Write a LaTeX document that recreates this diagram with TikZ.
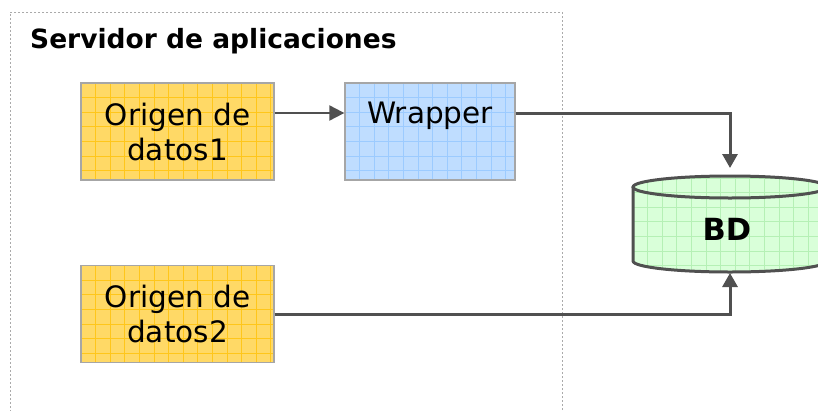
\documentclass[tikz,border=0pt]{standalone}
\usepackage{fontspec}
\setmainfont{DejaVu Sans}
\usetikzlibrary{arrows.meta}
\definecolor{yfill}{HTML}{FFD966}
\definecolor{ygrid}{HTML}{FFC61A}
\definecolor{bfill}{HTML}{BFDDFF}
\definecolor{bgrid}{HTML}{9CCBFF}
\definecolor{gfill}{HTML}{D9FFD9}
\definecolor{ggrid}{HTML}{B5F0B5}
\definecolor{edgegray}{HTML}{A6A6A6}
\definecolor{conn}{HTML}{505050}
\definecolor{frame}{HTML}{AAAAAA}
\tikzset{
  gridfill/.style={path picture={
    \foreach \k in {1,...,14}{
      \draw[#1, line width=0.8pt] ([xshift={\k*14.6pt}]path picture bounding box.north west) -- ([xshift={\k*14.6pt}]path picture bounding box.south west);
      \draw[#1, line width=0.8pt] ([yshift={-\k*14.6pt}]path picture bounding box.north west) -- ([yshift={-\k*14.6pt}]path picture bounding box.north east);
    }}},
  box/.style={draw=edgegray, line width=1.3pt, inner sep=0pt, align=center,
    minimum height=97pt, font=\fontsize{29.5}{35}\selectfont},
  srcbox/.style={box, fill=yfill, gridfill=ygrid, minimum width=193pt},
  wrapbox/.style={box, fill=bfill, gridfill=bgrid, minimum width=170pt},
  lbl/.style={inner sep=0pt, font=\fontsize{29.5}{35}\selectfont},
  conn/.style={draw=conn, line width=3pt, -{Triangle[length=14pt,width=15pt]}},
  thinconn/.style={draw=conn, line width=2pt, -{Triangle[length=15pt,width=15pt]}},
  cyl/.style={draw=conn, line width=3pt},
}
\begin{document}
\begin{tikzpicture}[x=1pt,y=-1pt]
\useasboundingbox (0,0) rectangle (818,410);
\clip (0,0) rectangle (818,410);
\fill[white] (0,0) rectangle (818,410);
% container
\node[draw=frame, line width=1pt, dash pattern=on 2pt off 2pt, minimum width=552pt, minimum height=410pt, inner sep=0pt] (srv) at (286,217) {};
\node[anchor=base west, inner sep=0pt, font=\fontsize{26.5}{30}\selectfont\bfseries] (title) at (30,48) {Servidor de aplicaciones};
% boxes
\node[srcbox] (o1) at (177.5,131.5) {Origen de\\datos1};
\node[wrapbox] (wr) at (430,131.5) {};
\node[lbl, anchor=base] (wt) at (430,123) {Wrapper};
\coordinate (row1) at (430,113);
\node[srcbox] (o2) at (177.5,314) {Origen de\\datos2};
% database cylinder
\fill[gfill] (633,187) -- (633,261) arc[start angle=180,end angle=0,x radius=97,y radius=11] -- (827,187) arc[start angle=0,end angle=-180,x radius=97,y radius=11] -- cycle;
\begin{scope}
  \clip (633,187) -- (633,261) arc[start angle=180,end angle=0,x radius=97,y radius=11] -- (827,187) arc[start angle=0,end angle=-180,x radius=97,y radius=11] -- cycle;
  \foreach \k in {0,...,14}{
    \draw[ggrid, line width=0.8pt] (633+\k*14.6,170) -- (633+\k*14.6,280);
  }
  \foreach \k in {0,...,7}{
    \draw[ggrid, line width=0.8pt] (630,178+\k*14.6) -- (830,178+\k*14.6);
  }
\end{scope}
\draw[cyl] (633,187) -- (633,261) arc[start angle=180,end angle=0,x radius=97,y radius=11] -- (827,187);
\draw[cyl] (730,187) ellipse[x radius=97,y radius=11];
\node[inner sep=0pt, anchor=base, font=\fontsize{30.5}{34}\selectfont\bfseries] (bd) at (727,240) {BD};
\coordinate (dbtop) at (730,168);
\coordinate (dbbot) at (730,273);
% connectors
\draw[thinconn] (o1.east |- row1) -- (wr.west |- row1);
\draw[conn] (wr.east |- row1) -| (dbtop);
\draw[conn] (o2.east) -| (dbbot);
\end{tikzpicture}
\end{document}
